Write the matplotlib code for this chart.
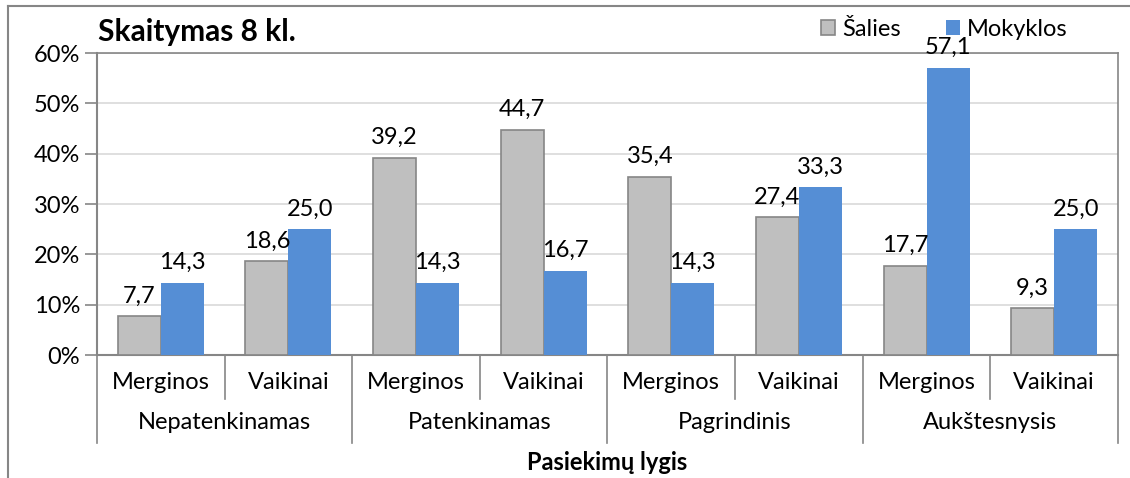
import numpy as np
import matplotlib
matplotlib.use("Agg")
import matplotlib.pyplot as plt
from matplotlib.lines import Line2D

plt.rcParams['font.family'] = ['Lato', 'DejaVu Sans']

# data
groups = ["Nepatenkinamas", "Patenkinamas", "Pagrindinis", "Aukštesnysis"]
subcats = ["Merginos", "Vaikinai"]
salies = [7.7, 18.6, 39.2, 44.7, 35.4, 27.4, 17.7, 9.3]
mokyklos = [14.3, 25.0, 14.3, 16.7, 14.3, 33.3, 57.1, 25.0]
series_names = ["Šalies", "Mokyklos"]
title = "Skaitymas 8 kl."
xlabel = "Pasiekimų lygis"

gray = "#BFBFBF"
blue = "#558ED5"
axcol = "#868686"

fig = plt.figure(figsize=(11.3, 4.78), dpi=100)
ax = fig.add_axes([0.0858, 0.2573, 0.9036, 0.6318])

n = len(salies)
x = np.arange(n)
w = 0.337
b1 = ax.bar(x - w / 2, salies, w, color=gray, edgecolor=axcol, linewidth=1.2, label=series_names[0], zorder=3)
b2 = ax.bar(x + w / 2, mokyklos, w, color=blue, linewidth=0, label=series_names[1], zorder=3)

fs = 17
for bars, vals in ((b1, salies), (b2, mokyklos)):
    for r, v in zip(bars, vals):
        ax.annotate(f"{v:.1f}".replace(".", ","), (r.get_x() + r.get_width() / 2, v),
                    xytext=(0, 7), textcoords="offset points", ha="center", va="bottom", fontsize=fs)

ax.set_xlim(-0.5, n - 0.5)
ax.set_ylim(0, 60)
ax.set_yticks(range(0, 61, 10))
ax.set_yticklabels([f"{t}%" for t in range(0, 61, 10)], fontsize=fs)
ax.yaxis.grid(True, color="#D9D9D9", linewidth=1.2, zorder=0)
ax.tick_params(axis='y', length=9, color=axcol, width=1.2, pad=3)
ax.set_xticks([])
for s in ("top", "right"):
    ax.spines[s].set_color(axcol)
    ax.spines[s].set_linewidth(1.2)
for s in ("left", "bottom"):
    ax.spines[s].set_color(axcol)
    ax.spines[s].set_linewidth(1.5)

# multi-level category axis
trans = ax.get_xaxis_transform()
for i in range(n):
    ax.text(i, -0.09, subcats[i % 2], transform=trans, ha="center", va="center", fontsize=fs)
for i in range(n + 1):
    bottom = -0.29 if i % 2 == 0 else -0.145
    ax.add_line(Line2D([i - 0.5, i - 0.5], [0, bottom], transform=trans, color=axcol,
                       linewidth=1.2, clip_on=False))
for g, name in enumerate(groups):
    ax.text(2 * g + 0.5, -0.225, name, transform=trans, ha="center", va="center", fontsize=fs)
ax.text(0.5, -0.355, xlabel, transform=ax.transAxes, ha="center", va="center",
        fontsize=fs, fontweight="bold")

fig.text(0.087, 0.933, title, ha="left", va="center", fontsize=21.5, fontweight="bold")

leg = fig.legend(handles=[b1, b2], loc="center left", bbox_to_anchor=(0.718, 0.938), ncol=2,
                 frameon=False, fontsize=fs, handlelength=0.6, handleheight=0.6,
                 handletextpad=0.3, columnspacing=1.9, borderaxespad=0)

# chart border
fig.add_artist(Line2D([0.007, 0.007], [0, 0.988], transform=fig.transFigure, color=axcol, linewidth=1.5))
fig.add_artist(Line2D([0.007, 1.0], [0.988, 0.988], transform=fig.transFigure, color=axcol, linewidth=1.5))

fig.savefig("out.png", dpi=100)
